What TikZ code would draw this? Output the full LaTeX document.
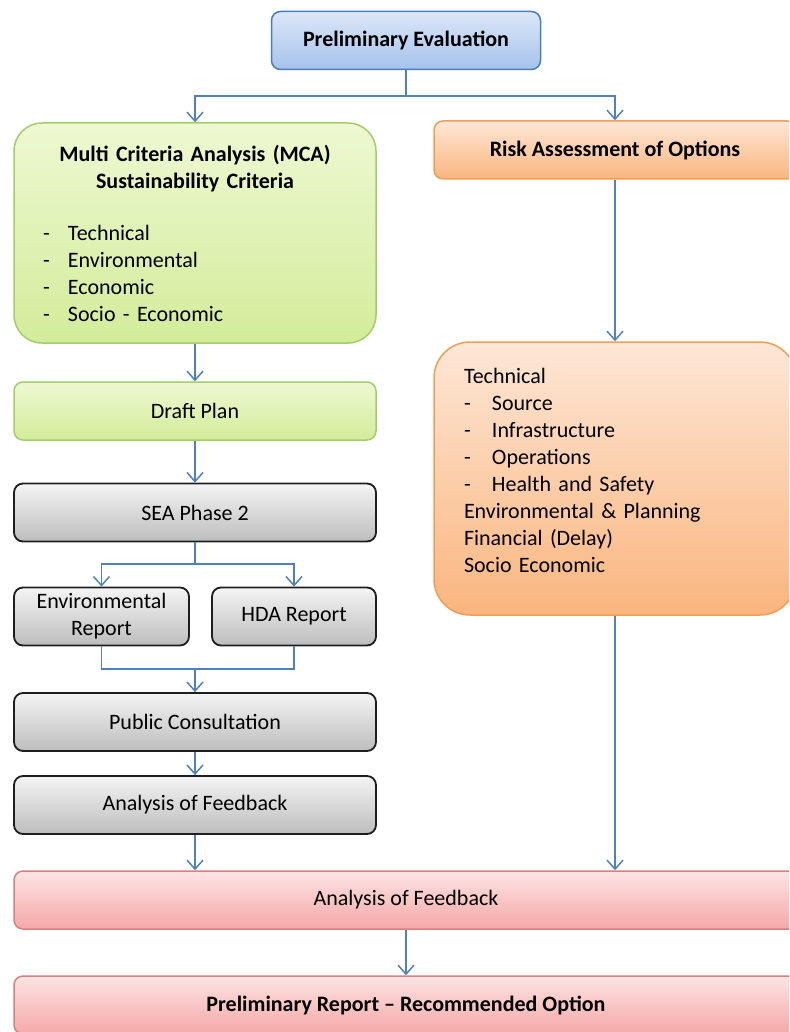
\documentclass[tikz,border=0pt]{standalone}
\usepackage{fontspec}
\setmainfont{Carlito}
\usetikzlibrary{arrows.meta}

\definecolor{flowline}{HTML}{4F81BD}
\definecolor{blueedge}{HTML}{4A7EBB}
\definecolor{bluetop}{HTML}{DCE7F8}
\definecolor{bluebot}{HTML}{A6C2EC}
\definecolor{greenedge}{HTML}{A5CC6B}
\definecolor{greentop}{HTML}{EEF8D2}
\definecolor{greenbot}{HTML}{D3EC9A}
\definecolor{orangeedge}{HTML}{F59D56}
\definecolor{orangetop}{HTML}{FDE7D6}
\definecolor{orangebot}{HTML}{FAB57E}
\definecolor{greyedge}{HTML}{1E1E1E}
\definecolor{greytop}{HTML}{F4F4F4}
\definecolor{greybot}{HTML}{BDBDBD}
\definecolor{rededge}{HTML}{D98080}
\definecolor{redtop}{HTML}{FDE3E3}
\definecolor{redbot}{HTML}{F5A8A8}

\tikzset{
  box/.style={rounded corners=9pt, line width=1.5pt, minimum height=58pt,
    inner sep=0pt, align=center, font=\fontsize{22}{27}\selectfont},
  bluebox/.style={box, draw=blueedge, top color=bluetop, bottom color=bluebot},
  greenbox/.style={box, draw=greenedge, top color=greentop, bottom color=greenbot},
  orangebox/.style={box, draw=orangeedge, top color=orangetop, bottom color=orangebot},
  greybox/.style={box, line width=1.8pt, draw=greyedge, top color=greytop, bottom color=greybot},
  redbox/.style={box, draw=rededge, top color=redtop, bottom color=redbot},
  link/.style={draw=flowline, line width=1.5pt},
  flow/.style={link, -{Straight Barb[length=9pt,width=16pt]}}
}

\newcommand{\dashitem}[2]{\makebox[#1][l]{-}#2}

\begin{document}
\begin{tikzpicture}[x=1pt,y=-1pt]
\useasboundingbox (0,0) rectangle (789,1032);
\clip (0,0) rectangle (789,1032);

\node [bluebox, minimum width=269pt] (prelim) at (406,40.5) {\bfseries Preliminary Evaluation};

\node [greenbox, rounded corners=28pt, minimum width=362pt, minimum height=220pt,
  text width=304pt, align=left] (mca) at (195,233)
  {{\centering\bfseries Multi Criteria Analysis (MCA)\\Sustainability Criteria\par}
   \vspace{25pt}
   \dashitem{25pt}{Technical}\\
   \dashitem{25pt}{Environmental}\\
   \dashitem{25pt}{Economic}\\
   \dashitem{25pt}{Socio - Economic}};

\node [orangebox, minimum width=362pt] (risk) at (615,150) {\bfseries Risk Assessment of Options};

\node [orangebox, rounded corners=36pt, minimum width=362pt, minimum height=273pt,
  text width=302pt, align=left] (riskitems) at (615,478.5)
  {Technical\\
   \dashitem{28pt}{Source}\\
   \dashitem{28pt}{Infrastructure}\\
   \dashitem{28pt}{Operations}\\
   \dashitem{28pt}{Health and Safety}\\
   Environmental \& Planning\\
   Financial (Delay)\\
   Socio Economic\par\kern16pt};

\node [greenbox, minimum width=362pt] (draft) at (195,411) {Draft Plan};
\node [greybox, minimum width=362pt] (sea) at (195,512.5) {SEA Phase 2};
\node [greybox, minimum width=175pt] (envrep) at (101.5,616.5) {Environmental\\Report};
\node [greybox, minimum width=164pt] (hda) at (294,616.5) {HDA Report};
\node [greybox, minimum width=362pt] (pubcons) at (195,722) {Public Consultation};
\node [greybox, minimum width=362pt] (feedback) at (195,805) {Analysis of Feedback};

\node [redbox, minimum width=784pt] (feedall) at (406,900) {Analysis of Feedback};
\node [redbox, minimum width=784pt] (report) at (406,1005) {\bfseries Preliminary Report -- Recommended Option};

% top split
\coordinate (topsplit) at (406,96);
\draw [link] (prelim.south) -- (topsplit);
\draw [flow] (topsplit) -| (mca.north);
\draw [flow] (topsplit) -| (risk.north);

% left column
\draw [flow] (mca.south) -- (draft.north);
\draw [flow] (draft.south) -- (sea.north);
\coordinate (seasplit) at (195,564);
\draw [link] (sea.south) -- (seasplit);
\draw [flow] (seasplit) -| (envrep.north);
\draw [flow] (seasplit) -| (hda.north);
\coordinate (seamerge) at (195,669);
\draw [link] (envrep.south) |- (seamerge);
\draw [link] (hda.south) |- (seamerge);
\draw [flow] (seamerge) -- (pubcons.north);
\draw [flow] (pubcons.south) -- (feedback.north);
\draw [flow] (feedback.south) -- (feedback.south |- feedall.north);

% right column
\draw [flow] (risk.south) -- (riskitems.north);
\draw [flow] (riskitems.south) -- (riskitems.south |- feedall.north);

\draw [flow] (feedall.south) -- (report.north);

\end{tikzpicture}
\end{document}
